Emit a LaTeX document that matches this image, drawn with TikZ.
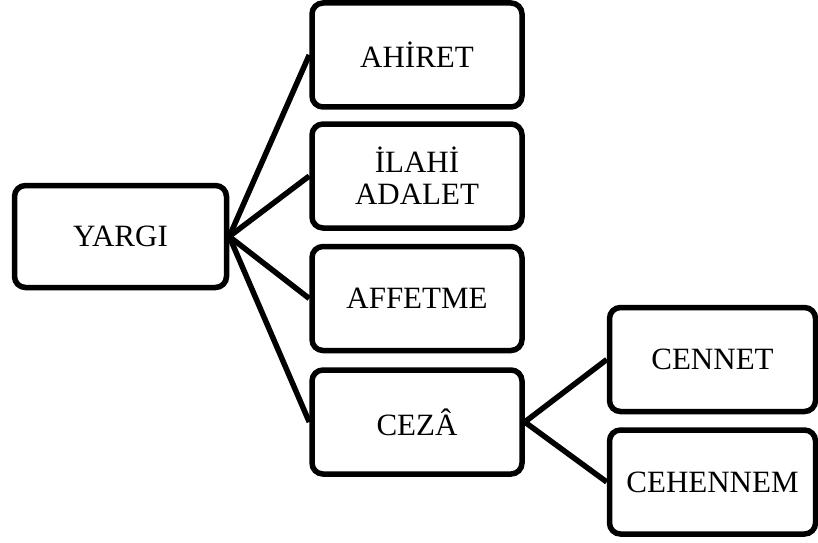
\documentclass[tikz,border=0pt]{standalone}
\usepackage{fontspec}
\setmainfont{Liberation Serif}
\begin{document}
\begin{tikzpicture}[x=1pt,y=1pt,
  box/.style={draw=black, line width=5.5pt, rounded corners=11pt, fill=white,
    minimum height=104pt, inner sep=0pt, align=center,
    font=\fontsize{31}{32}\selectfont},
  midbox/.style={box, minimum width=210pt},
  rbox/.style={box, minimum width=206pt},
  lbox/.style={box, minimum width=212pt, minimum height=102pt},
  link/.style={line width=5.5pt, draw=black}]
\useasboundingbox (0,0) rectangle (818,542);
\node[lbox] (yargi) at (120.5,305.5) {YARGI};
\node[midbox] (ahiret) at (417,487) {AHİRET};
\node[midbox] (ilahi) at (417,366) {İLAHİ\\ADALET};
\node[midbox] (affetme) at (417,243.5) {AFFETME};
\node[midbox] (ceza) at (417,120) {CEZÂ};
\node[rbox] (cennet) at (712.5,182.5) {CENNET};
\node[rbox] (cehennem) at (712.5,60) {CEHENNEM};
\draw[link] (yargi.east) -- (ahiret.west);
\draw[link] (yargi.east) -- (ilahi.west);
\draw[link] (yargi.east) -- (affetme.west);
\draw[link] (yargi.east) -- (ceza.west);
\draw[link] (ceza.east) -- (cennet.west);
\draw[link] (ceza.east) -- (cehennem.west);
\end{tikzpicture}
\end{document}
